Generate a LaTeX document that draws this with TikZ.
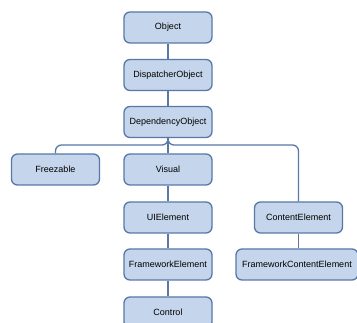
\documentclass[tikz,border=0pt]{standalone}
\usepackage{fontspec}
\setmainfont{Liberation Sans}
\usepackage{xcolor}
\usetikzlibrary{positioning,calc}

\definecolor{boxfill}{HTML}{C5D5EB}
\definecolor{boxline}{HTML}{5878A6}

\tikzset{
    cls/.style={draw=boxline, fill=boxfill, line width=1.3pt, rounded corners=6pt,
        minimum width=88pt, minimum height=31pt, inner sep=2pt, font=\fontsize{9}{10}\selectfont},
    link/.style={draw=boxline, line width=1.3pt, rounded corners=6pt}
}

\begin{document}
\begin{tikzpicture}[x=1pt,y=1pt]
    \useasboundingbox (0,0) rectangle (357,323);
    \clip (0,0) rectangle (357,323);

    % Main chain
    \node[cls] (obj) at (168,295.5) {Object};
    \node[cls] (disp) at (168,248) {DispatcherObject};
    \node[cls] (dep) at (168,201) {DependencyObject};

    % Second level
    \node[cls] (freez) at (55.5,153.5) {Freezable};
    \node[cls] (vis) at (168,153.5) {Visual};

    % Visual branch
    \node[cls] (uie) at (168,105.5) {UIElement};
    \node[cls] (fwe) at (168,58.5) {FrameworkElement};
    \node[cls] (ctrl) at (168,10.5) {Control};

    % Content branch
    \node[cls] (ce) at (298.5,105.5) {ContentElement};
    \node[cls, minimum width=122pt] (fce) at (297,58.5) {FrameworkContentElement};

    \draw[link] (obj) -- (disp);
    \draw[link] (disp) -- (dep);

    % Branching bar
    \draw[link] (dep.south) |- (55.5,178) -- (freez.north);
    \draw[link] (dep.south) |- (298.5,178) -- (ce.north);
    \draw[link] (dep.south) -- (vis.north);

    \draw[link] (vis) -- (uie);
    \draw[link] (uie) -- (fwe);
    \draw[link] (fwe) -- (ctrl);
    \draw[link] (ce.south) -- (ce.south |- fce.north);
\end{tikzpicture}
\end{document}
